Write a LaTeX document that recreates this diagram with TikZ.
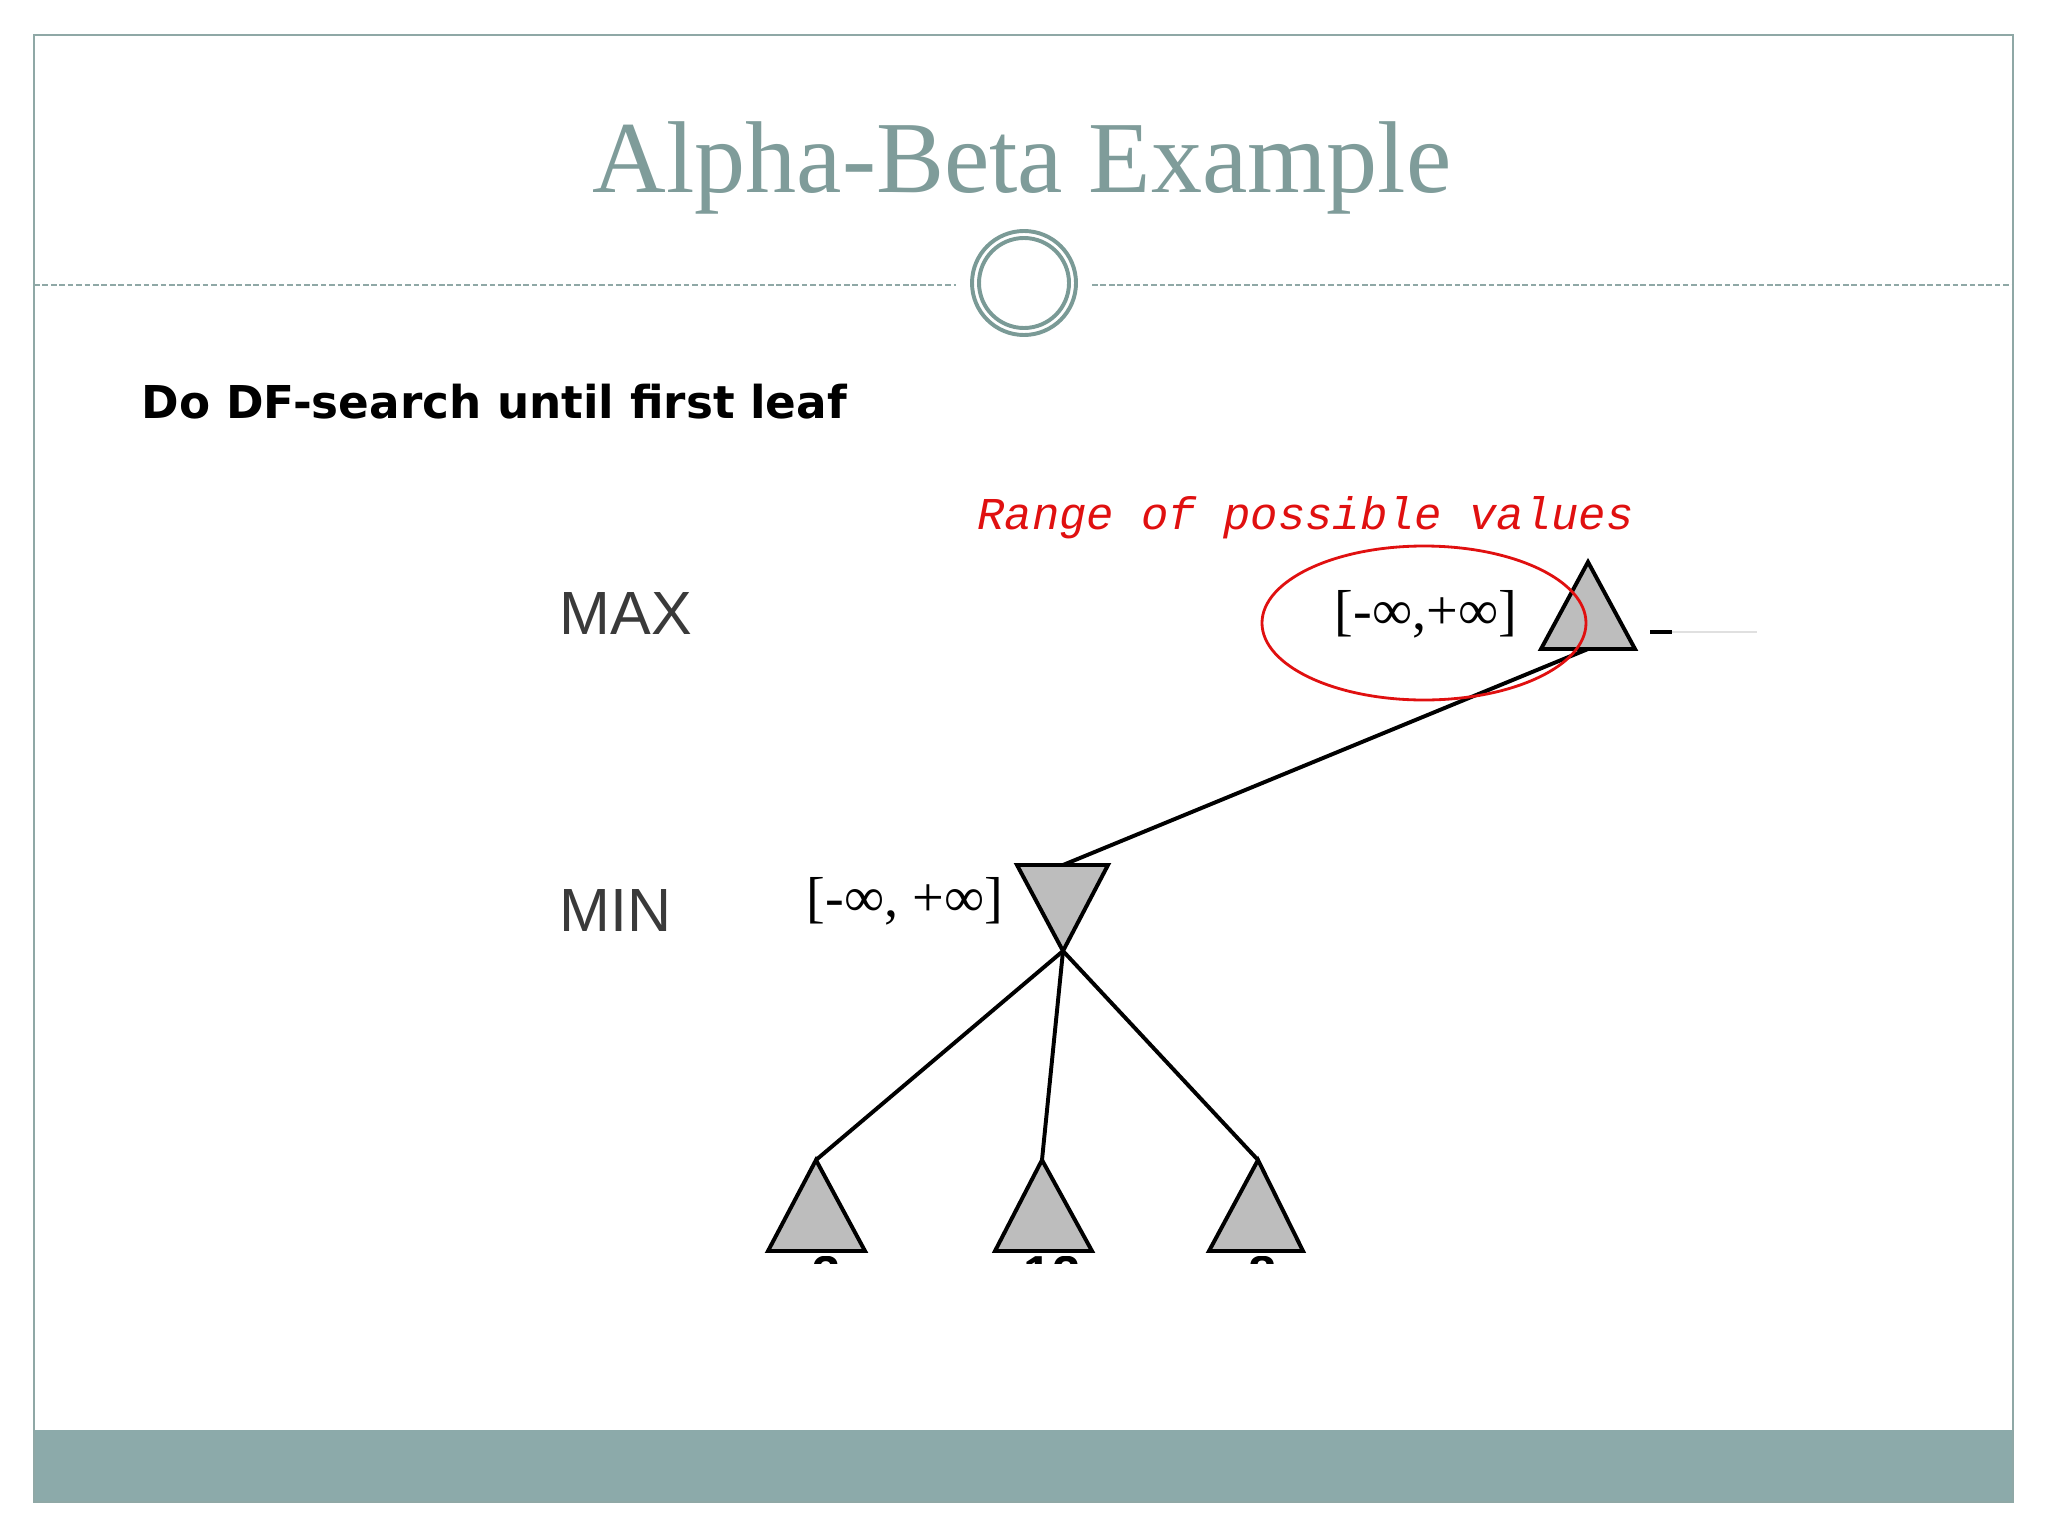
\documentclass[tikz,border=0pt]{standalone}
\usepackage{fontspec}
\setmainfont{Liberation Serif}
\newfontfamily\slidesans{DejaVu Sans}
\newfontfamily\arialish{Liberation Sans}
\newfontfamily\monoish{Liberation Mono}
\definecolor{frameC}{HTML}{8FA8A6}
\definecolor{bandC}{HTML}{8CAAAA}
\definecolor{titleC}{HTML}{7F9C9A}
\definecolor{ringC}{HTML}{7A9A96}
\definecolor{triC}{HTML}{BDBDBD}
\definecolor{lvlC}{HTML}{3A3A3A}
\definecolor{redC}{HTML}{E01010}
\tikzset{
  tri/.style={draw=black, fill=triC, line width=1.4pt, line join=miter},
  edge/.style={draw=black, line width=1.4pt},
  lvl/.style={font=\arialish\fontsize{21.7}{24}\selectfont, text=lvlC, inner sep=0pt, anchor=west},
  rng/.style={font=\fontsize{20}{22}\selectfont, inner sep=0pt},
}
\begin{document}
\begin{tikzpicture}[x=0.0125cm, y=-0.0125cm]
\useasboundingbox (0,0) rectangle (2048,1536);
% slide frame
\fill[bandC] (34,1430) rectangle (2013,1502);
\draw[frameC, line width=0.7pt] (34,35) rectangle (2013,1502);
\draw[frameC, line width=0.7pt, dash pattern=on 2pt off 1pt] (34,285) -- (956,285);
\draw[frameC, line width=0.7pt, dash pattern=on 2pt off 1pt] (1092,285) -- (2013,285);
\draw[ringC, line width=1.4pt] (1024,283) circle[radius=52];
\draw[ringC, line width=1.4pt] (1024,283) circle[radius=45];
% texts
\node[anchor=base, inner sep=0pt, text=titleC, font=\fontsize{36.3}{40}\selectfont] (title) at (1022,192) {Alpha-Beta Example};
\node[anchor=base west, inner sep=0pt, font=\slidesans\bfseries\fontsize{16.1}{19}\selectfont] (sub) at (141,418) {Do DF-search until first leaf};
\node[anchor=base west, inner sep=0pt, text=redC, font=\monoish\itshape\fontsize{16.2}{19}\selectfont] (range) at (977,529) {Range of possible values};
\node[lvl] (maxlbl) at (559,614) {MAX};
\node[lvl] (minlbl) at (559,910) {MIN};
% tree coordinates
\coordinate (maxtop) at (1588,562);
\coordinate (maxbase) at (1588,649);
\coordinate (mintop) at (1063,865);
\coordinate (minapex) at (1063,951);
\coordinate (l1) at (816,1160);
\coordinate (l2) at (1042,1160);
\coordinate (l3) at (1258,1160);
% connectors
\draw[edge] (maxbase) -- (mintop);
\draw[edge] (minapex) -- (l1);
\draw[edge] (minapex) -- (l2);
\draw[edge] (minapex) -- (l3);
% triangles
\draw[tri] (maxtop) -- (1635,649) -- (1541,649) -- cycle;
\draw[tri] (1017,865) -- (1108,865) -- (minapex) -- cycle;
\draw[tri] (l1) -- (865,1251) -- (768,1251) -- cycle;
\draw[tri] (l2) -- (1092,1251) -- (995,1251) -- cycle;
\draw[tri] (l3) -- (1303,1251) -- (1209,1251) -- cycle;
% faded fragments
\draw[black, line width=1.4pt] (1650,632) -- (1672,632);
\draw[black!12, line width=1pt] (1672,632) -- (1757,632);
\begin{scope}
\clip (700,1256) rectangle (1350,1263);
\node[anchor=north, inner sep=0pt, font=\arialish\bfseries\fontsize{18}{20}\selectfont] (d1) at (827,1256) {3};
\node[anchor=north, inner sep=0pt, font=\arialish\bfseries\fontsize{18}{20}\selectfont] (d2) at (1052,1256) {12};
\node[anchor=north, inner sep=0pt, font=\arialish\bfseries\fontsize{18}{20}\selectfont] (d3) at (1263,1256) {8};
\end{scope}
% range labels
\node[rng] (rootrng) at (1426,614) {[-∞,+∞]};
\node[rng] (minrng) at (905,901) {[-∞, +∞]};
\draw[redC, line width=1pt] (1424,623) ellipse[x radius=162, y radius=77];
\end{tikzpicture}
\end{document}
